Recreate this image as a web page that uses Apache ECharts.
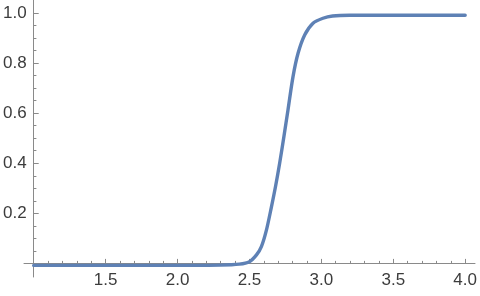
<!DOCTYPE html>
<html>
<head>
<meta charset="utf-8">
<script src="https://cdn.jsdelivr.net/npm/echarts@6/dist/echarts.min.js"></script>
<style>html,body{margin:0;padding:0;background:#fff;}#c{width:480px;height:296px;}</style>
</head>
<body>
<div id="c"></div>
<script>
const xValues = [1.0, 1.5, 2.0, 2.3, 2.43, 2.50, 2.549, 2.583, 2.618, 2.653, 2.681, 2.710, 2.740, 2.768, 2.803, 2.838, 2.884, 2.942, 3.011, 3.078, 3.196, 3.5, 4.0];
const yValues = [-0.008, -0.008, -0.008, -0.007, -0.003, 0.007, 0.034, 0.067, 0.133, 0.226, 0.306, 0.400, 0.508, 0.613, 0.746, 0.839, 0.912, 0.959, 0.979, 0.988, 0.991, 0.991, 0.991];
const xTickLabels = ['1.5', '2.0', '2.5', '3.0', '3.5', '4.0'];
const yTickLabels = ['0.2', '0.4', '0.6', '0.8', '1.0'];

const axisColor = '#8a8a8a';
const textColor = '#3c3c3c';
const font = "'Liberation Sans', Arial, sans-serif";

const chart = echarts.init(document.getElementById('c'), null, {renderer: 'canvas'});
const seriesData = xValues.map((x, i) => [x, yValues[i]]);

chart.setOption({
  animation: false,
  backgroundColor: '#ffffff',
  grid: [
    {left: 33.7, right: 14.7, top: 13, bottom: 32.6, containLabel: false},
    {left: 24, right: 5, top: 0, bottom: 19, containLabel: false}
  ],
  xAxis: [
    {
      type: 'value', gridIndex: 0, min: 1, max: 4, interval: 0.5,
      axisLine: {show: false},
      splitLine: {show: false},
      axisTick: {show: true, inside: true, length: 4.5, lineStyle: {color: axisColor, width: 1}},
      minorTick: {show: true, splitNumber: 5, length: 2.5, lineStyle: {color: axisColor, width: 1}},
      axisLabel: {
        show: true, margin: 8, color: textColor, fontSize: 17, fontFamily: font,
        formatter: function (v) { const s = v.toFixed(1); return xTickLabels.indexOf(s) >= 0 ? s : ''; }
      }
    },
    {
      type: 'value', gridIndex: 1, min: -0.067, max: 3.067,
      axisLine: {show: true, onZero: true, lineStyle: {color: axisColor, width: 1}},
      axisTick: {show: false}, axisLabel: {show: false}, splitLine: {show: false}
    }
  ],
  yAxis: [
    {
      type: 'value', gridIndex: 0, min: 0, max: 1, interval: 0.2,
      axisLine: {show: false},
      splitLine: {show: false},
      axisTick: {show: true, inside: true, length: 5, lineStyle: {color: axisColor, width: 1}},
      minorTick: {show: true, splitNumber: 4, length: 2.7, lineStyle: {color: axisColor, width: 1}},
      axisLabel: {
        show: true, margin: 7, color: textColor, fontSize: 17, fontFamily: font,
        formatter: function (v) { const s = v.toFixed(1); return yTickLabels.indexOf(s) >= 0 ? s : ''; }
      }
    },
    {
      type: 'value', gridIndex: 1, min: -0.0543, max: 1.052,
      axisLine: {show: true, onZero: true, lineStyle: {color: axisColor, width: 1}},
      axisTick: {show: false}, axisLabel: {show: false}, splitLine: {show: false}
    }
  ],
  series: [
    {
      type: 'line', xAxisIndex: 0, yAxisIndex: 0,
      data: seriesData,
      smooth: 0.3,
      showSymbol: false, clip: false,
      lineStyle: {color: '#5E81B5', width: 3.4, cap: 'round', join: 'round'}
    }
  ]
});
</script>
</body>
</html>
